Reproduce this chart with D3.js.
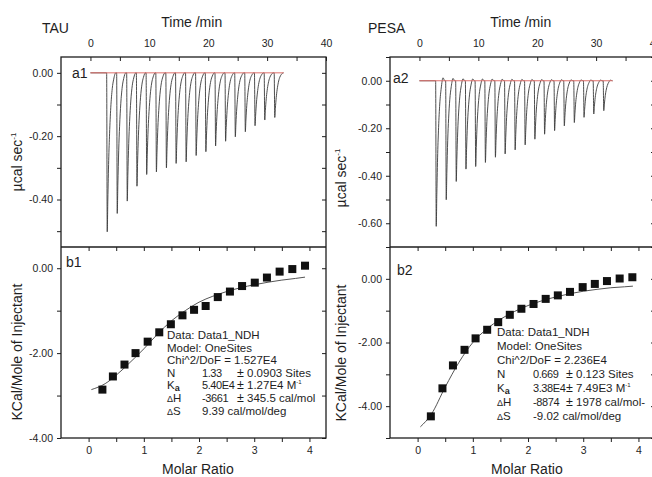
<!DOCTYPE html>
<html>
<head>
<meta charset="utf-8">
<script src="https://cdn.jsdelivr.net/npm/d3@7"></script>
<style>
  body { margin: 0; background: #fff; }
  svg { display: block; }
</style>
</head>
<body>
<svg id="chart"></svg>
<script>
const width = 652;
const height = 477;
const fontFamily = "Liberation Sans, Arial, Helvetica, sans-serif";
const ink = "#1e1e1e";

// raw thermogram: time of each injection peak (min) and peak minimum (µcal/s)
const injectionTimes = [2.85, 4.55, 6.25, 7.9, 9.55, 11.2, 12.9, 14.55, 16.25, 17.95, 19.6, 21.25, 22.95, 24.6, 26.3, 27.95, 29.6, 31.3];
const tauPeaks = [-0.502, -0.444, -0.405, -0.358, -0.321, -0.313, -0.300, -0.286, -0.281, -0.261, -0.249, -0.231, -0.216, -0.202, -0.186, -0.167, -0.149, -0.141];
const pesaPeaks = [-0.613, -0.501, -0.424, -0.372, -0.361, -0.344, -0.322, -0.308, -0.291, -0.270, -0.246, -0.225, -0.210, -0.190, -0.176, -0.154, -0.140, -0.126];
// shape of one peak: [min after minimum, fraction of depth]
const tauShape = [[-0.1, 0], [0, 1], [0.1, 0.8], [0.25, 0.55], [0.4, 0.38], [0.6, 0.22], [0.85, 0.1], [1.1, 0.04], [1.45, 0]];
const pesaShape = [[-0.1, 0], [0, 1], [0.1, 0.78], [0.25, 0.5], [0.4, 0.32], [0.6, 0.16], [0.85, 0.05], [1.15, -0.02], [1.45, 0]];
const traceEnd = 32.8;

// integrated heats (kcal/mol of injectant) vs molar ratio
const tauRatio = [0.25, 0.44, 0.65, 0.85, 1.07, 1.28, 1.49, 1.70, 1.91, 2.12, 2.34, 2.56, 2.78, 3.01, 3.23, 3.46, 3.69, 3.92];
const tauHeat = [-2.86, -2.55, -2.27, -2.00, -1.73, -1.51, -1.32, -1.11, -0.98, -0.89, -0.68, -0.55, -0.42, -0.34, -0.22, -0.08, -0.02, 0.06];
const tauFitRatio = [0.05, 0.3, 0.5, 0.75, 1.0, 1.25, 1.5, 1.75, 2.0, 2.25, 2.5, 2.75, 3.0, 3.25, 3.5, 3.75, 3.92];
const tauFitHeat = [-2.86, -2.72, -2.52, -2.22, -1.90, -1.55, -1.24, -1.00, -0.80, -0.66, -0.55, -0.46, -0.39, -0.33, -0.28, -0.24, -0.21];

const pesaRatio = [0.24, 0.45, 0.64, 0.85, 1.05, 1.26, 1.46, 1.67, 1.88, 2.10, 2.32, 2.54, 2.76, 2.99, 3.21, 3.43, 3.66, 3.89];
const pesaHeat = [-4.32, -3.44, -2.72, -2.23, -1.87, -1.60, -1.36, -1.13, -0.94, -0.79, -0.63, -0.52, -0.41, -0.26, -0.16, -0.07, 0.01, 0.05];
const pesaFitRatio = [0.05, 0.25, 0.5, 0.75, 1.0, 1.25, 1.5, 1.75, 2.0, 2.25, 2.5, 2.75, 3.0, 3.25, 3.5, 3.75, 3.9];
const pesaFitHeat = [-4.65, -4.25, -3.40, -2.62, -2.00, -1.58, -1.27, -1.03, -0.84, -0.69, -0.57, -0.47, -0.39, -0.33, -0.28, -0.25, -0.23];

// fit report
const tauReport = ["Data: Data1_NDH", "Model: OneSites", "Chi^2/DoF = 1.527E4"];
const tauParams = [["N", "1.33", "0.0903 Sites"], ["Ka", "5.40E4", "1.27E4 M"], ["ΔH", "-3661", "345.5 cal/mol"], ["ΔS", "9.39 cal/mol/deg", null]];
const pesaReport = ["Data: Data1_NDH", "Model: OneSites", "Chi^2/DoF = 2.236E4"];
const pesaParams = [["N", "0.669", "0.123 Sites"], ["Ka", "3.38E4", "7.49E3 M"], ["ΔH", "-8874", "1978 cal/mol-"], ["ΔS", "-9.02 cal/mol/deg", null]];

// tick values
const timeTicks = [0, 5, 10, 15, 20, 25, 30, 35, 40];
const ratioTicks = [0, 0.5, 1, 1.5, 2, 2.5, 3, 3.5, 4];
const tauRawTicks = [0, -0.1, -0.2, -0.3, -0.4, -0.5];
const pesaRawTicks = [0.1, 0, -0.1, -0.2, -0.3, -0.4, -0.5, -0.6, -0.7];
const tauHeatTicks = [0, -1, -2, -3, -4];
const pesaHeatTicks = [1, 0, -1, -2, -3, -4, -5];

const svg = d3.select("#chart")
  .attr("width", width)
  .attr("height", height)
  .style("font-family", fontFamily);

svg.append("rect").attr("width", width).attr("height", height).attr("fill", "#fff");

const top0 = 57, mid = 247, bottom = 438;

const columns = [
  {
    title: "TAU", titleX: 42, x0: 61, x1: 326, tag: "1",
    peaks: tauPeaks, shape: tauShape, rawDomain: [-0.55, 0.05], rawTicks: tauRawTicks,
    heatDomain: [-4, 0.5], heatTicks: tauHeatTicks,
    ratio: tauRatio, heat: tauHeat, fitRatio: tauFitRatio, fitHeat: tauFitHeat,
    report: tauReport, params: tauParams,
    rawLabelY: 162, heatLabelY: 352, labelX: 22,
    aTag: [72, 78], bTag: [66, 267],
    rep: { x: 167, y: 339, dy: 12.6, c2: 202, c3: 237 }
  },
  {
    title: "PESA", titleX: 368, x0: 390, x1: 655, tag: "2",
    peaks: pesaPeaks, shape: pesaShape, rawDomain: [-0.7, 0.1], rawTicks: pesaRawTicks,
    heatDomain: [-5, 1], heatTicks: pesaHeatTicks,
    ratio: pesaRatio, heat: pesaHeat, fitRatio: pesaFitRatio, fitHeat: pesaFitHeat,
    report: pesaReport, params: pesaParams,
    rawLabelY: 178, heatLabelY: 353, labelX: 346,
    aTag: [393, 83], bTag: [397, 275],
    rep: { x: 497, y: 336, dy: 14, c2: 533, c3: 566 }
  }
];

function styleAxis(g) {
  g.select(".domain").remove();
  g.selectAll(".tick line").attr("stroke", ink).attr("stroke-width", 1);
  g.selectAll(".tick text")
    .attr("fill", ink)
    .style("font-family", fontFamily)
    .style("font-size", "10.5px");
}

const fmt2 = (d) => d.toFixed(2);

columns.forEach((c) => {
  const xTime = d3.scaleLinear().domain([-5, 40]).range([c.x0, c.x1]);
  const yRaw = d3.scaleLinear().domain(c.rawDomain).range([mid, top0]);
  const xRatio = d3.scaleLinear().domain([-0.5, 4.3]).range([c.x0, c.x1]);
  const yHeat = d3.scaleLinear().domain(c.heatDomain).range([bottom, mid]);

  // titles
  svg.append("text").attr("x", c.titleX).attr("y", 33)
    .style("font-size", "14px").attr("fill", ink).text(c.title);
  svg.append("text").attr("x", xTime(17.2)).attr("y", 27)
    .attr("text-anchor", "middle").style("font-size", "14px").attr("fill", ink)
    .text("Time /min");

  // raw thermogram
  const pts = [[0, 0]];
  injectionTimes.forEach((t, i) => {
    c.shape.forEach(([dt, f]) => pts.push([t + dt, c.peaks[i] * f]));
  });
  pts.push([traceEnd, 0]);

  const line = d3.line()
    .x((d) => xTime(d[0]))
    .y((d) => yRaw(d[1]))
    .curve(d3.curveMonotoneX);

  svg.append("path").datum(pts)
    .attr("fill", "none").attr("stroke", "#3a3a3a").attr("stroke-width", 0.9)
    .attr("d", line);

  svg.append("path").datum([[0, 0], [traceEnd, 0]])
    .attr("fill", "none").attr("stroke", "#e0706c").attr("stroke-width", 1)
    .attr("d", line);

  // binding isotherm
  const fitLine = d3.line()
    .x((d) => xRatio(d[0]))
    .y((d) => yHeat(d[1]))
    .curve(d3.curveMonotoneX);

  svg.append("path").datum(c.fitRatio.map((r, i) => [r, c.fitHeat[i]]))
    .attr("fill", "none").attr("stroke", "#555").attr("stroke-width", 1)
    .attr("d", fitLine);

  svg.append("g").selectAll("rect")
    .data(c.ratio.map((r, i) => [r, c.heat[i]]))
    .join("rect")
    .attr("x", (d) => xRatio(d[0]) - 4)
    .attr("y", (d) => yHeat(d[1]) - 4)
    .attr("width", 8).attr("height", 8)
    .attr("fill", "#111");

  // axes
  svg.append("g").attr("transform", `translate(0,${top0})`)
    .call(d3.axisTop(xTime).tickValues(timeTicks).tickSize(-4).tickPadding(10)
      .tickFormat((d) => (d % 10 === 0 ? d : "")))
    .call(styleAxis);

  svg.append("g").attr("transform", `translate(${c.x0},0)`)
    .call(d3.axisLeft(yRaw).tickValues(c.rawTicks).tickSize(4).tickPadding(4)
      .tickFormat((d) => (Math.round(d * 10) % 2 === 0 && d <= 0 ? fmt2(d) : "")))
    .call(styleAxis);

  svg.append("g").attr("transform", `translate(${c.x1},0)`)
    .call(d3.axisRight(yRaw).tickValues(c.rawTicks).tickSize(-4).tickFormat(""))
    .call(styleAxis);

  svg.append("g").attr("transform", `translate(0,${mid})`)
    .call(d3.axisBottom(xRatio).tickValues(ratioTicks).tickSize(4).tickFormat(""))
    .call(styleAxis);

  svg.append("g").attr("transform", `translate(0,${bottom})`)
    .call(d3.axisBottom(xRatio).tickValues(ratioTicks).tickSize(4).tickPadding(5)
      .tickFormat((d) => (Number.isInteger(d) ? d : "")))
    .call(styleAxis);

  svg.append("g").attr("transform", `translate(${c.x0},0)`)
    .call(d3.axisLeft(yHeat).tickValues(c.heatTicks).tickSize(4).tickPadding(4)
      .tickFormat((d) => (d % 2 === 0 ? fmt2(d) : "")))
    .call(styleAxis);

  svg.append("g").attr("transform", `translate(${c.x1},0)`)
    .call(d3.axisRight(yHeat).tickValues(c.heatTicks).tickSize(-4).tickFormat(""))
    .call(styleAxis);

  // frames
  svg.append("rect").attr("x", c.x0).attr("y", top0)
    .attr("width", c.x1 - c.x0).attr("height", bottom - top0)
    .attr("fill", "none").attr("stroke", ink).attr("stroke-width", 1.3);
  svg.append("line").attr("x1", c.x0).attr("x2", c.x1).attr("y1", mid).attr("y2", mid)
    .attr("stroke", ink).attr("stroke-width", 1.3);

  // panel tags
  svg.append("text").attr("x", c.aTag[0]).attr("y", c.aTag[1])
    .style("font-size", "14px").attr("fill", ink).text("a" + c.tag);
  svg.append("text").attr("x", c.bTag[0]).attr("y", c.bTag[1])
    .style("font-size", "14px").attr("fill", ink).text("b" + c.tag);

  // axis titles
  const rawLabel = svg.append("text")
    .attr("transform", `translate(${c.labelX},${c.rawLabelY}) rotate(-90)`)
    .attr("text-anchor", "middle").style("font-size", "14px").attr("fill", ink);
  rawLabel.append("tspan").text("µcal sec");
  rawLabel.append("tspan").attr("dy", -6).style("font-size", "8px").text("-1");

  svg.append("text")
    .attr("transform", `translate(${c.labelX},${c.heatLabelY}) rotate(-90)`)
    .attr("text-anchor", "middle").style("font-size", "14px").attr("fill", ink)
    .text("KCal/Mole of Injectant");

  svg.append("text").attr("x", xRatio(1.98)).attr("y", 474)
    .attr("text-anchor", "middle").style("font-size", "14px").attr("fill", ink)
    .text("Molar Ratio");

  // fit report
  const r = c.rep;
  const rep = svg.append("g").style("font-size", "11.5px").attr("fill", ink);
  c.report.forEach((s, i) => {
    rep.append("text").attr("x", r.x).attr("y", r.y + i * r.dy).text(s);
  });
  c.params.forEach(([name, val, err], j) => {
    const y = r.y + (j + 3) * r.dy;
    const nt = rep.append("text").attr("x", r.x).attr("y", y);
    if (name === "Ka") {
      nt.append("tspan").text("K");
      nt.append("tspan").attr("dy", 2).style("font-size", "9px").style("font-weight", "bold").text("a");
    } else if (name[0] === "Δ") {
      nt.append("tspan").style("font-size", "9px").text("Δ");
      nt.append("tspan").text(name.slice(1));
    } else {
      nt.text(name);
    }
    const vt = rep.append("text").attr("x", r.c2).attr("y", y).text(val);
    if (err) {
      vt.style("font-size", "11px").style("letter-spacing", "-0.4px");
      rep.append("text").attr("x", r.c3).attr("y", y).style("font-size", "12.5px").text("±");
      const et = rep.append("text").attr("x", r.c3 + 10).attr("y", y);
      et.append("tspan").text(err);
      if (name === "Ka") {
        et.append("tspan").attr("dy", -5).style("font-size", "6px").text("-1");
      }
    }
  });
});
</script>
</body>
</html>
